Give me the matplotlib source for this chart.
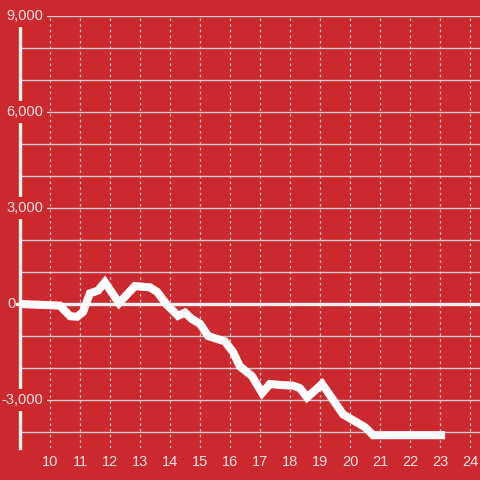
import matplotlib.pyplot as plt

BG = "#cc292e"
GRID = "#d4cccc"
TEXT = "#f6e2e2"
AXIS = "#eeeeee"

# data
hours = [9.0, 10.33, 10.67, 10.9, 11.1, 11.33, 11.6, 11.83, 12.3, 12.83,
         13.33, 13.57, 13.9, 14.27, 14.5, 14.73, 15.0, 15.27, 15.83, 16.1,
         16.33, 16.73, 17.07, 17.33, 17.67, 18.1, 18.33, 18.57, 19.07, 19.33,
         19.77, 20.23, 20.5, 20.77, 23.17]
values = [0, -50, -380, -400, -250, 330, 420, 680, 30, 560,
          520, 380, -30, -370, -270, -470, -620, -1000, -1170, -1500,
          -1950, -2250, -2780, -2500, -2530, -2550, -2630, -2920, -2500, -2850,
          -3450, -3700, -3850, -4100, -4100]

x_ticks = list(range(10, 25))
y_grid = [v for v in range(-4000, 10000, 1000) if v != 0]
y_labels = [9000, 6000, 3000, -3000]

plt.rcParams["font.family"] = ["Liberation Sans", "DejaVu Sans"]

fig = plt.figure(figsize=(4.8, 4.8), dpi=100, facecolor=BG)
ax = fig.add_axes([20 / 480, 32 / 480, 460 / 480, 432 / 480])
ax.set_facecolor(BG)
ax.set_xlim(9, 9 + 460 / 30)
ax.set_ylim(-4500, 9000)
for s in ax.spines.values():
    s.set_visible(False)

# grid
ax.hlines(y_grid, 9, 9 + 460 / 30, color=GRID, lw=1.0, zorder=1)
ax.vlines(x_ticks, -4500, 9000, color=GRID, lw=0.9, linestyles=(0, (2, 2.5)), zorder=1)
ax.axvline(9, color=AXIS, lw=2.4, zorder=2, clip_on=False)
ax.axhline(0, color=AXIS, lw=2.4, zorder=2, xmin=-3 / 460, clip_on=False)

# y labels with background boxes over axis / gridline
ax.set_yticks([])
for v in y_labels:
    ax.text(9 + 23 / 30, v, f"{v:,}", ha="right", va="center", fontsize=10.5,
            color=TEXT, zorder=4,
            bbox=dict(boxstyle="square,pad=0.25", fc=BG, ec="none"))
ax.text(9 - 4 / 30, 0, "0", ha="right", va="center", fontsize=10.5,
        color=TEXT, zorder=4, clip_on=False)

ax.set_xticks(x_ticks)
ax.set_xticklabels([str(h) for h in x_ticks])
ax.tick_params(axis="x", length=0, pad=5, labelsize=10.5, labelcolor=TEXT)

ax.plot(hours, values, color="white", lw=5.8, solid_capstyle="butt",
        solid_joinstyle="miter", zorder=5)

fig.savefig("out.png", dpi=100, facecolor=BG)
